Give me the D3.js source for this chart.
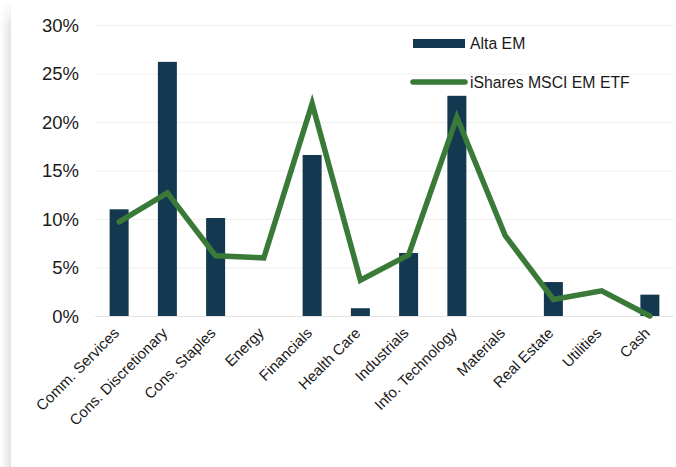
<!DOCTYPE html>
<html><head><meta charset="utf-8">
<script src="https://cdn.jsdelivr.net/npm/d3@7"></script>
<style>body{margin:0;background:#fff}svg{display:block;font-family:"Liberation Sans",Arial,sans-serif}</style>
</head><body>
<svg id="c" width="676" height="467"></svg>
<script>
const categories = ["Comm. Services","Cons. Discretionary","Cons. Staples","Energy","Financials","Health Care","Industrials","Info. Technology","Materials","Real Estate","Utilities","Cash"];
const altaEM = [11.0,26.2,10.1,0,16.6,0.8,6.5,22.7,0,3.5,0,2.2];
const ishares = [9.7,12.7,6.2,6.0,21.9,3.7,6.3,20.5,8.3,1.7,2.6,0.0];
const yTicks = [0,5,10,15,20,25,30];
const seriesNames = ["Alta EM","iShares MSCI EM ETF"];

const svg = d3.select("#c");
const defs = svg.append("defs");
const g0 = defs.append("linearGradient").attr("id","sh").attr("x1","0").attr("x2","1").attr("y1","0").attr("y2","0");
g0.append("stop").attr("offset","0").attr("stop-color","#ffffff");
g0.append("stop").attr("offset","1").attr("stop-color","#e2e2e2");
const g1 = defs.append("linearGradient").attr("id","shv").attr("x1","0").attr("x2","0").attr("y1","0").attr("y2","1");
g1.append("stop").attr("offset","0").attr("stop-color","#fff").attr("stop-opacity",1);
g1.append("stop").attr("offset","1").attr("stop-color","#fff").attr("stop-opacity",0);
svg.append("rect").attr("x",0).attr("y",0).attr("width",11).attr("height",467).attr("fill","url(#sh)");
svg.append("rect").attr("x",0).attr("y",0).attr("width",11).attr("height",30).attr("fill","url(#shv)");

const x = d3.scaleBand().domain(categories).range([95,674]);
const y = d3.scaleLinear().domain([0,30]).range([316,25]);

// gridlines
svg.append("g").selectAll("line").data(yTicks).join("line")
  .attr("x1",95).attr("x2",674).attr("y1",d=>y(d)+0.5).attr("y2",d=>y(d)+0.5)
  .attr("stroke",d=>d===0?"#e4e4e4":"#efefef").attr("stroke-width",1);

// y labels
svg.append("g").selectAll("text").data(yTicks).join("text")
  .attr("x",79).attr("y",d=>y(d)).attr("dy","0.36em").attr("text-anchor","end")
  .attr("font-size",18.5).attr("fill","#1a1a1a").text(d=>d+"%");

// bars
const bw = 19;
svg.append("g").selectAll("rect").data(altaEM).join("rect")
  .attr("x",(d,i)=>x(categories[i])+x.bandwidth()/2-bw/2)
  .attr("y",d=>y(d)).attr("width",bw).attr("height",d=>y(0)-y(d))
  .attr("fill","#13384f");

// line
const line = d3.line().x((d,i)=>x(categories[i])+x.bandwidth()/2).y(d=>y(d));
svg.append("path").datum(ishares).attr("d",line).attr("fill","none")
  .attr("stroke","#3a7a38").attr("stroke-width",5.5).attr("stroke-linejoin","miter").attr("stroke-linecap","round");

// x labels
svg.append("g").selectAll("text").data(categories).join("text")
  .attr("transform",d=>`translate(${x(d)+x.bandwidth()/2+1},${334}) rotate(-45)`)
  .attr("text-anchor","end").attr("font-size",15).attr("fill","#1a1a1a").text(d=>d);

// legend
const lg = svg.append("g");
lg.append("rect").attr("x",413).attr("y",39).attr("width",52).attr("height",9).attr("fill","#13384f");
lg.append("text").attr("x",470).attr("y",49).attr("font-size",15.8).attr("fill","#1a1a1a").text(seriesNames[0]);
lg.append("line").attr("x1",413).attr("x2",465).attr("y1",82).attr("y2",82)
  .attr("stroke","#3a7a38").attr("stroke-width",5.5).attr("stroke-linecap","round");
lg.append("text").attr("x",470).attr("y",88).attr("font-size",15.8).attr("fill","#1a1a1a").text(seriesNames[1]);
</script>
</body></html>
